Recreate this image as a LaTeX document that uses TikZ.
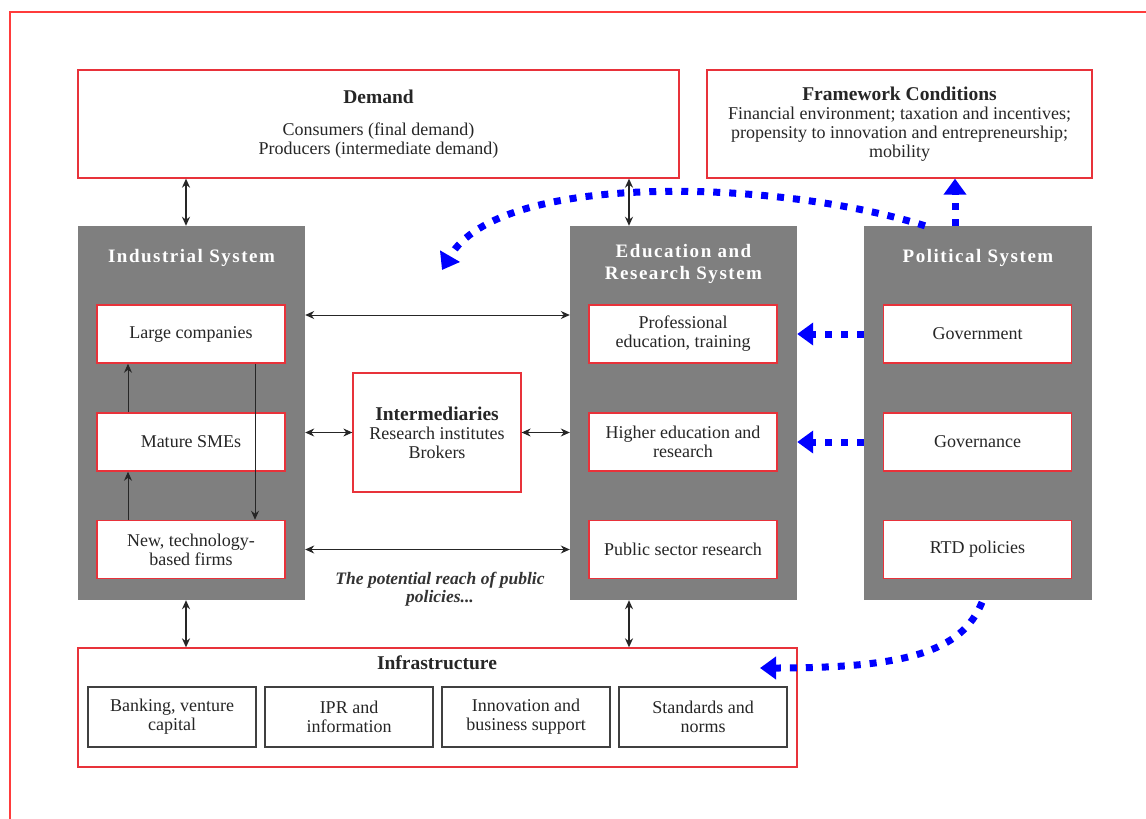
\documentclass[tikz,border=0pt]{standalone}
\usepackage{fontspec}
\setmainfont{Liberation Serif}
\newfontfamily\headfont[LetterSpace=8]{Liberation Serif}
\usetikzlibrary{arrows.meta,calc}
\definecolor{framered}{HTML}{FF3B3B}
\definecolor{boxred}{HTML}{E8323A}
\definecolor{panelgray}{HTML}{7F7F7F}
\definecolor{policyblue}{HTML}{0000FF}
\newcommand\txtsize{\fontsize{18}{19}\selectfont}
\newcommand\ttlfont{\bfseries\fontsize{19.5}{19}\selectfont}

\tikzset{
  outer/.style={draw=framered, line width=2.2pt},
  bigbox/.style={draw=boxred, line width=1.3pt, fill=white, align=center,
    font=\txtsize, text=black!85, inner sep=0},
  sysbox/.style={fill=panelgray, minimum width=227, minimum height=374, inner sep=0},
  sysname/.style={text=white, align=center,
    font=\headfont\bfseries\fontsize{19}{22}\selectfont},
  unitbox/.style={draw=boxred, line width=1.5pt, fill=white, align=center,
    minimum width=188, minimum height=58, inner sep=1, font=\txtsize, text=black!85},
  infobox/.style={draw=black!75, line width=1.4pt, fill=white, align=center,
    minimum width=168, minimum height=60, inner sep=1, font=\txtsize, text=black!85},
  link/.style={{Stealth[length=9pt,width=8pt]}-{Stealth[length=9pt,width=8pt]},
    line width=1pt, black!85},
  mainlink/.style={link, line width=2.2pt},
  flow/.style={-{Stealth[length=9pt,width=8pt]}, line width=1pt, black!85},
  policy/.style={-{Triangle[length=16pt,width=22pt]}, policyblue,
    line width=7pt, dash pattern=on 7pt off 9pt}
}

\begin{document}
\begin{tikzpicture}[x=1pt,y=-1pt]
  \useasboundingbox[fill=white] (0,0) rectangle (1146,819);
  \draw[outer] (10,830) |- (1160,12);

  % top boxes
  \node[bigbox, minimum width=601, minimum height=108] (demand) at (378.5,124)
    {{\ttlfont Demand}\\[13pt]Consumers (final demand)\\Producers (intermediate demand)};
  \node[bigbox, minimum width=385, minimum height=108] (frame) at (899.5,124)
    {{\ttlfont Framework Conditions}\\Financial environment; taxation and incentives;\\
     propensity to innovation and entrepreneurship;\\mobility};

  % the three systems
  \node[sysbox] (ind) at (191.5,413) {};
  \node[sysbox] (edu) at (683.5,413) {};
  \node[sysbox, minimum width=228] (pol) at (978,413) {};
  \node[sysname] (indname) at (191.5,258) {Industrial System};
  \node[sysname] (eduname) at (683.5,264) {Education and\\Research System};
  \node[sysname] (polname) at (978,258) {Political System};

  \node[unitbox] (large)  at (191,334)   {Large companies};
  \node[unitbox] (mature) at (191,442)   {Mature SMEs};
  \node[unitbox] (newf)   at (191,549.5) {New, technology-\\based firms};
  \node[unitbox] (prof)   at (683,334)   {Professional\\education, training};
  \node[unitbox] (higher) at (683,442)   {Higher education and\\research};
  \node[unitbox] (pubres) at (683,549.5) {Public sector research};
  \node[unitbox] (gov)    at (977.5,334)   {Government};
  \node[unitbox] (govern) at (977.5,442)   {Governance};
  \node[unitbox] (rtd)    at (977.5,549.5) {RTD policies};

  \node[bigbox, minimum width=168, minimum height=119] (inter) at (437,432.5)
    {{\ttlfont Intermediaries}\\Research institutes\\Brokers};
  \node[font=\bfseries\itshape\fontsize{17.5}{18}\selectfont, text=black!80,
    align=center] (reach) at (440,589) {The potential reach of public\\policies...};

  % infrastructure
  \node[bigbox, minimum width=719, minimum height=119] (infra) at (437.5,707.5) {};
  \node[font=\ttlfont, text=black!85] (infraname) at (437,663) {Infrastructure};
  \node[infobox] (bank)  at (172,717) {Banking, venture\\capital};
  \node[infobox] (ipr)   at (349,717) {IPR and\\information};
  \node[infobox] (innov) at (526,717) {Innovation and\\business support};
  \node[infobox] (norms) at (703,717) {Standards and\\norms};

  % black links
  \draw[mainlink] ($(demand.south)+(-192.5,0)$) -- ($(ind.north)+(-5.5,0)$);
  \draw[mainlink] ($(demand.south)+(250.5,0)$) -- ($(edu.north)+(-54.5,0)$);
  \draw[mainlink] ($(ind.south)+(-5.5,0)$) -- ($(infra.north)+(-251.5,0)$);
  \draw[mainlink] ($(edu.south)+(-54.5,0)$) -- ($(infra.north)+(191.5,0)$);
  \draw[link] ($(ind.east |- large)+(0,-19)$) -- ($(edu.west |- large)+(0,-19)$);
  \draw[link] (ind.east |- inter.west) -- (inter.west);
  \draw[link] (inter.east) -- (edu.west |- inter.east);
  \draw[link] (ind.east |- newf) -- (edu.west |- newf);
  \draw[flow] ($(mature.north)+(-63,0)$) -- ($(large.south)+(-63,0)$);
  \draw[flow] ($(newf.north)+(-63,0)$) -- ($(mature.south)+(-63,0)$);
  \draw[flow] ($(large.south)+(64,0)$) -- ($(newf.north)+(64,0)$);

  % policy arrows
  \coordinate (reachtip) at (442,270);
  \coordinate (infratip) at (760,668);
  \draw[policy] (pol.west |- gov) -- (edu.east |- prof);
  \draw[policy] (pol.west |- govern) -- (edu.east |- higher);
  \draw[policy] ($(pol.north)+(-23,0)$) -- ($(frame.south)+(55.5,0)$);
  \draw[policy] ($(pol.north)+(-53,0)$) .. controls (780,180) and (500,170) .. (reachtip);
  \draw[policy] ($(pol.south)+(4,2)$) .. controls (962,652) and (905,668) .. (infratip);
\end{tikzpicture}
\end{document}
